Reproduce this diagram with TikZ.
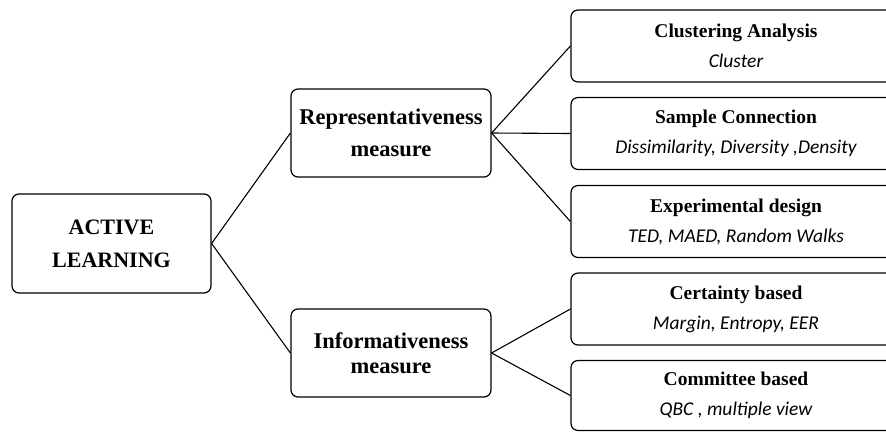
\documentclass[tikz,border=0pt]{standalone}
\usepackage{fontspec}
\setmainfont{Liberation Serif}
\newfontfamily\calib{Carlito}

\begin{document}
\begin{tikzpicture}[x=1pt,y=-1pt,
every node/.style={draw,line width=1.2pt,rounded corners=7pt,align=center,inner sep=0pt},
rootbox/.style={minimum width=199pt,minimum height=99pt,font=\fontsize{22}{33}\selectfont\bfseries},
midbox/.style={minimum width=200pt,minimum height=88pt,font=\fontsize{22.5}{32}\selectfont\bfseries},
leafbox/.style={minimum width=330pt,minimum height=72pt,font=\fontsize{19.5}{30}\selectfont}]
\useasboundingbox (0,0) rectangle (886,432);
\clip (0,0) rectangle (886,432);

%root and the two measures
\node[rootbox](e) at (111.5,243.5) {ACTIVE\\LEARNING};
\node[midbox](1) at (391,133) {Representativeness\\measure};
\node[midbox,font=\fontsize{22.5}{25}\selectfont\bfseries](2) at (391,353) {Informativeness\\measure};

%leaves, the right side is cut off by the clip
\node[leafbox](11) at (736,46) {{\bfseries Clustering Analysis}\\{\calib\itshape Cluster}};
\node[leafbox](12) at (736,133.5) {{\bfseries Sample Connection}\\{\calib\itshape Dissimilarity, Diversity ,Density}};
\node[leafbox](13) at (736,221.5) {{\bfseries Experimental design}\\{\calib\itshape TED, MAED, Random Walks}};
\node[leafbox](21) at (736,309) {{\bfseries Certainty based}\\{\calib\itshape Margin, Entropy, EER}};
\node[leafbox,minimum height=70pt](22) at (736,395.5) {{\bfseries Committee based}\\{\calib\itshape QBC , multiple view}};

%edges of the tree
\foreach \a/\b in {e/1,e/2,1/11,1/12,1/13,2/21,2/22}
	\draw[line width=1.1pt] (\a.east) -- (\b.west);
\end{tikzpicture}
\end{document}
